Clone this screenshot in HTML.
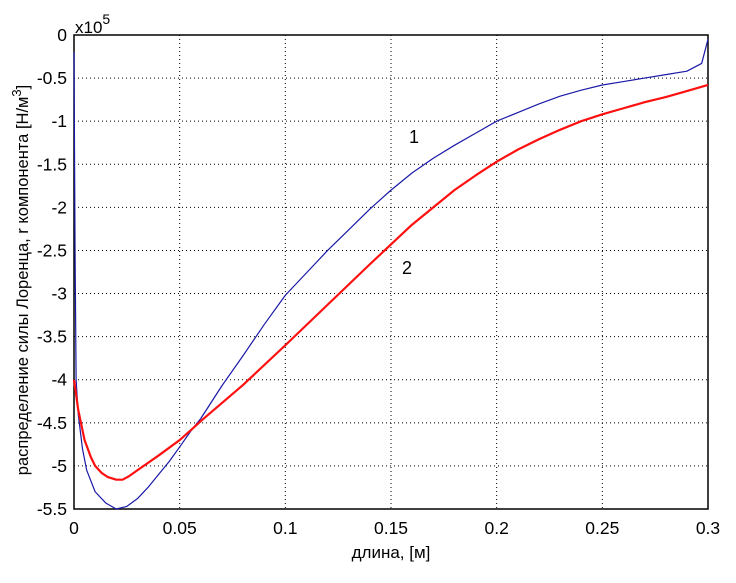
<!DOCTYPE html>
<html><head><meta charset="utf-8"><style>
body{margin:0;background:#fff;}
svg{display:block;font-family:"Liberation Sans","DejaVu Sans",sans-serif;}
</style></head><body>
<svg id="c" width="736" height="583"></svg>
<script>
const xTicks=[0,0.05,0.1,0.15,0.2,0.25,0.3];
const xTickLabels=["0","0.05","0.1","0.15","0.2","0.25","0.3"];
const yTicks=[0,-0.5,-1,-1.5,-2,-2.5,-3,-3.5,-4,-4.5,-5,-5.5];
const yTickLabels=["0","-0.5","-1","-1.5","-2","-2.5","-3","-3.5","-4","-4.5","-5","-5.5"];
const blueX=[0,0.0005,0.001,0.002,0.004,0.006,0.01,0.015,0.02,0.025,0.03,0.035,0.04,0.045,0.05,0.056,0.06,0.07,0.08,0.09,0.1,0.11,0.12,0.13,0.14,0.15,0.16,0.17,0.18,0.19,0.2,0.21,0.22,0.23,0.24,0.25,0.26,0.27,0.28,0.29,0.297,0.3];
const blueY=[-0.2,-2.5,-4.0,-4.4,-4.8,-5.05,-5.3,-5.43,-5.5,-5.47,-5.38,-5.25,-5.1,-4.95,-4.78,-4.57,-4.45,-4.07,-3.72,-3.36,-3.02,-2.76,-2.5,-2.26,-2.02,-1.8,-1.6,-1.43,-1.28,-1.14,-1.0,-0.9,-0.8,-0.71,-0.64,-0.58,-0.54,-0.5,-0.46,-0.42,-0.33,-0.05];
const redX=[0,0.002,0.005,0.008,0.01,0.013,0.016,0.02,0.023,0.026,0.03,0.04,0.05,0.056,0.06,0.08,0.1,0.12,0.14,0.16,0.17,0.18,0.19,0.2,0.21,0.22,0.23,0.24,0.25,0.26,0.27,0.28,0.29,0.3];
const redY=[-4.0,-4.35,-4.7,-4.9,-5.0,-5.08,-5.13,-5.16,-5.16,-5.12,-5.05,-4.88,-4.7,-4.57,-4.48,-4.06,-3.6,-3.13,-2.66,-2.2,-2.0,-1.8,-1.63,-1.47,-1.33,-1.21,-1.1,-1.0,-0.92,-0.85,-0.78,-0.72,-0.65,-0.58];
const L=74,R=708,T=35,B=509;
const sx=v=>L+(v-0)/(0.3)*(R-L);
const sy=v=>T+(0-v)/5.5*(B-T);
const NS="http://www.w3.org/2000/svg";
const svg=document.getElementById('c');
function mk(t,a,p){const e=document.createElementNS(NS,t);for(const k in a)e.setAttribute(k,a[k]);(p||svg).appendChild(e);return e;}
xTicks.forEach((v,i)=>{
 if(i>0&&i<xTicks.length-1){const g=mk('line',{x1:sx(v),x2:sx(v),y1:T,y2:B,stroke:'#000','stroke-dasharray':'1,3'});
 
 }
 const t=mk('text',{x:sx(v),y:B+25,'text-anchor':'middle','font-size':'17.5'});t.textContent=xTickLabels[i];
 
 
});
yTicks.forEach((v,i)=>{
 if(i>0&&i<yTicks.length-1){const g=mk('line',{x1:L,x2:R,y1:sy(v),y2:sy(v),stroke:'#000','stroke-dasharray':'1,3'});
 
 }
 const t=mk('text',{x:L-7,y:sy(v)+6,'text-anchor':'end','font-size':'17.5'});t.textContent=yTickLabels[i];
 
 
});
const fr=mk('rect',{x:L,y:T,width:R-L,height:B-T,fill:'none',stroke:'#000','stroke-width':'1.5'});


const bl=mk('polyline',{points:blueX.map((x,i)=>sx(x)+','+sy(blueY[i])).join(' '),fill:'none',stroke:'#1a1aa8','stroke-width':'1.2','stroke-linejoin':'round'});


const rl=mk('polyline',{points:redX.map((x,i)=>sx(x)+','+sy(redY[i])).join(' '),fill:'none',stroke:'#ff1010','stroke-width':'2.2','stroke-linejoin':'round'});


</script>
<div style="position:absolute;left:0;top:0;width:736px;height:583px;pointer-events:none">
<svg width="736" height="583" style="font-family:'Liberation Sans','DejaVu Sans',sans-serif">
<text x="75" y="33" font-size="17">x10<tspan dy="-9" font-size="14">5</tspan></text>
<text x="409" y="143" font-size="18">1</text>
<text x="402" y="274" font-size="18">2</text>
<text x="391" y="558" font-size="17" text-anchor="middle">длина,  [м]</text>
<text transform="translate(28,280) rotate(-90)" font-size="16.5" text-anchor="middle">распределение силы Лоренца, r компонента [Н/м<tspan dy="-7" font-size="13">3</tspan><tspan dy="7">]</tspan></text>
</svg></div>
</body></html>
